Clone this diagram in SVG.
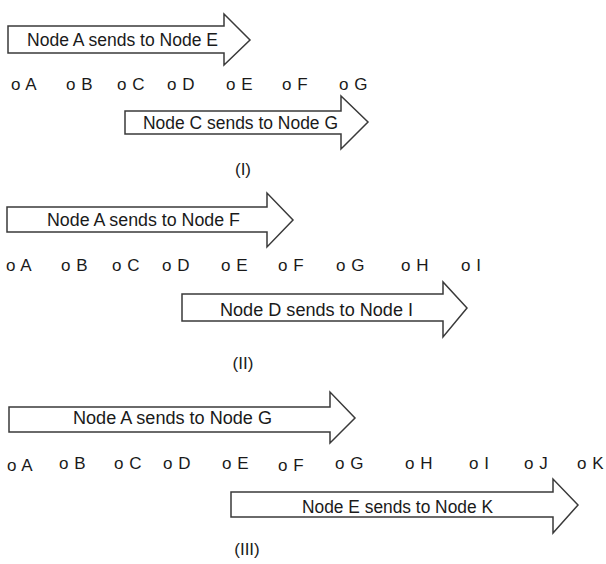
<svg xmlns="http://www.w3.org/2000/svg" width="606" height="564" viewBox="0 0 606 564">
<style>
.arrow{fill:#fff;stroke:#3a3a3a;stroke-width:1.5;stroke-linejoin:miter}
.t{font-family:"Liberation Sans",Arial,sans-serif;font-size:17.5px;fill:#1a1a1a}
.n{font-family:"Liberation Sans",Arial,sans-serif;font-size:17px;fill:#1a1a1a;word-spacing:1px}
.cap{font-family:"Liberation Sans",Arial,sans-serif;font-size:17px;fill:#1a1a1a;text-anchor:middle}
</style>
<rect width="606" height="564" fill="#fff"/>
<g id="connectors">
<g id="msg-a-e">
<polygon class="arrow" points="8,26 224,26 224,14 250,40 224,65 224,53 8,53"/>
<text class="t" x="27" y="45.5" textLength="191" lengthAdjust="spacingAndGlyphs">Node A sends to Node E</text>
</g>
<g id="msg-c-g">
<polygon class="arrow" points="125,111 341,111 341,96 368,122 341,149 341,134 125,134"/>
<text class="t" x="143" y="128.5" textLength="195" lengthAdjust="spacingAndGlyphs">Node C sends to Node G</text>
</g>
<g id="msg-a-f">
<polygon class="arrow" points="7,207 267,207 267,193 293,220 267,247 267,232 7,232"/>
<text class="t" x="47" y="225.5" textLength="193" lengthAdjust="spacingAndGlyphs">Node A sends to Node F</text>
</g>
<g id="msg-d-i">
<polygon class="arrow" points="182,294 443,294 443,282 467,308 443,337 443,321 182,321"/>
<text class="t" x="220" y="315.5" textLength="193" lengthAdjust="spacingAndGlyphs">Node D sends to Node I</text>
</g>
<g id="msg-a-g">
<polygon class="arrow" points="9,407 330,407 330,392 355,418 330,443 330,432 9,432"/>
<text class="t" x="73" y="423.5" textLength="199" lengthAdjust="spacingAndGlyphs">Node A sends to Node G</text>
</g>
<g id="msg-e-k">
<polygon class="arrow" points="231,492 553,492 553,479 578,505 553,533 553,517 231,517"/>
<text class="t" x="302" y="512.5" textLength="191" lengthAdjust="spacingAndGlyphs">Node E sends to Node K</text>
</g>
</g>
<g id="row1">
<g id="r1-A"><text class="n" x="11" y="90">o A</text></g>
<g id="r1-B"><text class="n" x="66" y="90">o B</text></g>
<g id="r1-C"><text class="n" x="117" y="90">o C</text></g>
<g id="r1-D"><text class="n" x="167" y="90">o D</text></g>
<g id="r1-E"><text class="n" x="226" y="90">o E</text></g>
<g id="r1-F"><text class="n" x="282" y="90">o F</text></g>
<g id="r1-G"><text class="n" x="339" y="90">o G</text></g>
</g>
<text class="cap" x="243" y="175">(I)</text>
<g id="row2">
<g id="r2-A"><text class="n" x="6" y="271">o A</text></g>
<g id="r2-B"><text class="n" x="61" y="271">o B</text></g>
<g id="r2-C"><text class="n" x="112" y="271">o C</text></g>
<g id="r2-D"><text class="n" x="162" y="271">o D</text></g>
<g id="r2-E"><text class="n" x="221" y="271">o E</text></g>
<g id="r2-F"><text class="n" x="278" y="271">o F</text></g>
<g id="r2-G"><text class="n" x="336" y="271">o G</text></g>
<g id="r2-H"><text class="n" x="401" y="271">o H</text></g>
<g id="r2-I"><text class="n" x="461" y="271">o I</text></g>
</g>
<text class="cap" x="243" y="369">(II)</text>
<g id="row3">
<g id="r3-A"><text class="n" x="7" y="471">o A</text></g>
<g id="r3-B"><text class="n" x="59" y="469">o B</text></g>
<g id="r3-C"><text class="n" x="114" y="469">o C</text></g>
<g id="r3-D"><text class="n" x="163" y="469">o D</text></g>
<g id="r3-E"><text class="n" x="222" y="469">o E</text></g>
<g id="r3-F"><text class="n" x="278" y="471">o F</text></g>
<g id="r3-G"><text class="n" x="335" y="469">o G</text></g>
<g id="r3-H"><text class="n" x="405" y="469">o H</text></g>
<g id="r3-I"><text class="n" x="469" y="469">o I</text></g>
<g id="r3-J"><text class="n" x="524" y="469">o J</text></g>
<g id="r3-K"><text class="n" x="577" y="469">o K</text></g>
</g>
<text class="cap" x="247" y="555">(III)</text>
</svg>
